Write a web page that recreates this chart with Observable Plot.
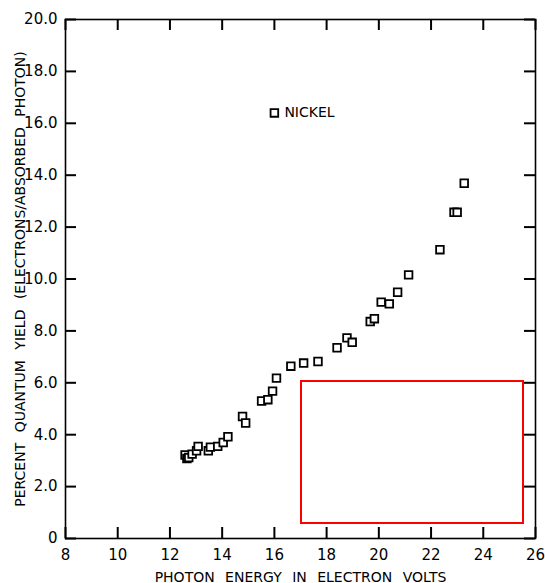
<!DOCTYPE html>
<html>
<head>
<meta charset="utf-8">
<script src="https://cdn.jsdelivr.net/npm/d3@7"></script>
<script src="https://cdn.jsdelivr.net/npm/@observablehq/plot@0.6"></script>
<style>
  html, body { margin: 0; padding: 0; background: #fff; }
  #mag { position: absolute; left: 300px; top: 380px; width: 220px; height: 140px; overflow: hidden; border: 2px solid red; background: #fff; }
  #mag svg { transform-origin: 0 0; transform: scale(4) translate(-60px, -505px); }
</style>
</head>
<body>
<div id="chart"></div>
<div id="mag"></div>
<script>
const energy = [12.58, 12.65, 12.72, 12.85, 13.02, 13.08, 13.47, 13.55, 13.83, 14.04, 14.22,
  14.78, 14.90, 15.51, 15.75, 15.93, 16.08, 16.63, 17.12, 17.67, 18.40, 18.78, 18.98,
  19.67, 19.83, 20.09, 20.40, 20.72, 21.14, 22.34, 22.88, 23.00, 23.27];
const yieldPct = [3.22, 3.08, 3.12, 3.25, 3.38, 3.55, 3.38, 3.52, 3.55, 3.70, 3.92,
  4.70, 4.45, 5.30, 5.35, 5.68, 6.18, 6.64, 6.76, 6.82, 7.35, 7.73, 7.56,
  8.36, 8.47, 9.11, 9.04, 9.49, 10.16, 11.13, 12.57, 12.57, 13.69];
const xTicks = [8, 10, 12, 14, 16, 18, 20, 22, 24, 26];
const yTicks = [0, 2, 4, 6, 8, 10, 12, 14, 16, 18, 20];
const legendX = [16.0];
const legendY = [16.4];
const legendLabel = ["NICKEL"];

const W = 545, H = 583, mL = 65, mR = 10, mT = 19, mB = 45;
const tickLen = 11;
const xDom = [8, 26], yDom = [0, 20];
const innerW = W - mL - mR, innerH = H - mT - mB;
const tickDy = (yDom[1] - yDom[0]) * tickLen / innerH;
const tickDx = (xDom[1] - xDom[0]) * tickLen / innerW;

const points = energy.map((e, i) => ({e, y: yieldPct[i]}));
const legend = legendLabel.map((t, i) => ({x: legendX[i], y: legendY[i], t}));
const yFmt = d => d === 0 ? "0" : d.toFixed(1);
const tk = {stroke: "black", strokeWidth: 2};

const chart = Plot.plot({
  width: W, height: H, marginLeft: mL, marginRight: mR, marginTop: mT, marginBottom: mB,
  x: {domain: xDom},
  y: {domain: yDom},
  marks: [
    Plot.frame({stroke: "black", strokeWidth: 1.6}),
    Plot.axisX({anchor: "bottom", ticks: xTicks, tickSize: 0, tickPadding: 11, tickFormat: d => String(d),
      label: "PHOTON ENERGY IN ELECTRON VOLTS", labelAnchor: "center", labelOffset: 43, labelArrow: "none",
      fontSize: 15, fontFamily: "DejaVu Sans", fill: "black"}),
    Plot.axisY({anchor: "left", ticks: yTicks, tickSize: 0, tickPadding: 8, tickFormat: yFmt,
      label: "PERCENT QUANTUM YIELD (ELECTRONS/ABSORBED PHOTON)", labelAnchor: "center", labelOffset: 50, labelArrow: "none",
      fontSize: 15, fontFamily: "DejaVu Sans", fill: "black"}),
    Plot.dot(points, {x: "e", y: "y", symbol: "square", r: 4.3, stroke: "black", strokeWidth: 1.8, fill: "white"}),
    Plot.dot(legend, {x: "x", y: "y", symbol: "square", r: 4.3, stroke: "black", strokeWidth: 1.8, fill: "white"}),
    Plot.text(legend, {x: "x", y: "y", text: "t", dx: 10, textAnchor: "start", fontSize: 14, fontFamily: "DejaVu Sans", fill: "black"}),
    Plot.ruleX(xTicks, {x: d => d, y1: yDom[0], y2: yDom[0] + tickDy, ...tk}),
    Plot.ruleX(xTicks, {x: d => d, y1: yDom[1], y2: yDom[1] - tickDy, ...tk}),
    Plot.ruleY(yTicks, {y: d => d, x1: xDom[0], x2: xDom[0] + tickDx, ...tk}),
    Plot.ruleY(yTicks, {y: d => d, x1: xDom[1], x2: xDom[1] - tickDx, ...tk})
  ]
});
document.getElementById("chart").appendChild(chart);
chart.querySelectorAll('[aria-label="x-axis label"] text, [aria-label="y-axis label"] text').forEach(t => {
  t.setAttribute("font-size", "14");
  t.style.wordSpacing = "6px";
});
document.getElementById("mag").appendChild(chart.cloneNode(true));
</script>
</body>
</html>
